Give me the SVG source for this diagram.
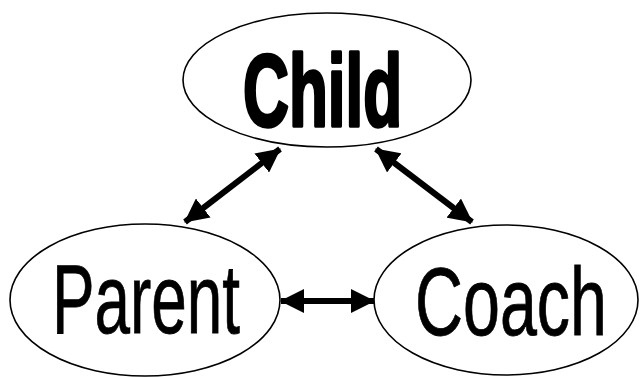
<svg xmlns="http://www.w3.org/2000/svg" width="640" height="377" viewBox="0 0 640 377">
<style>
.node ellipse{fill:#fff;stroke:#000;stroke-width:1.6}
.lbl{font-family:"Liberation Sans Narrow","Liberation Sans",Arial,sans-serif;fill:#000;stroke:#000;stroke-width:0.8;text-anchor:start}
.heavy{font-weight:bold;stroke-width:3.5;stroke-linejoin:round}
.conn line{stroke:#000;stroke-width:6}
</style>
<defs>
<marker id="ah" markerUnits="userSpaceOnUse" markerWidth="24" markerHeight="24" refX="23" refY="12" orient="auto-start-reverse" viewBox="0 0 24 24">
<path d="M0,0 L24,12 L0,24 Z" fill="#000"/>
</marker>
</defs>
<rect width="640" height="377" fill="#fff"/>
<g id="child" class="node">
<ellipse cx="327" cy="80" rx="144" ry="67"/>
<text class="lbl heavy" x="243" y="126" font-size="102" textLength="159" lengthAdjust="spacingAndGlyphs">Child</text>
</g>
<g id="parent" class="node">
<ellipse cx="145" cy="300" rx="135" ry="76"/>
<text class="lbl" x="52" y="333" font-size="98" textLength="188" lengthAdjust="spacingAndGlyphs">Parent</text>
</g>
<g id="coach" class="node">
<ellipse cx="506" cy="300" rx="132" ry="75"/>
<text class="lbl" x="415" y="335" font-size="97" textLength="192" lengthAdjust="spacingAndGlyphs">Coach</text>
</g>
<g id="connectors" class="conn">
<line x1="280" y1="149" x2="185" y2="222" marker-start="url(#ah)" marker-end="url(#ah)"/>
<line x1="376" y1="149" x2="472" y2="222" marker-start="url(#ah)" marker-end="url(#ah)"/>
<line x1="281" y1="301" x2="374" y2="301" marker-start="url(#ah)" marker-end="url(#ah)"/>
</g>
</svg>
